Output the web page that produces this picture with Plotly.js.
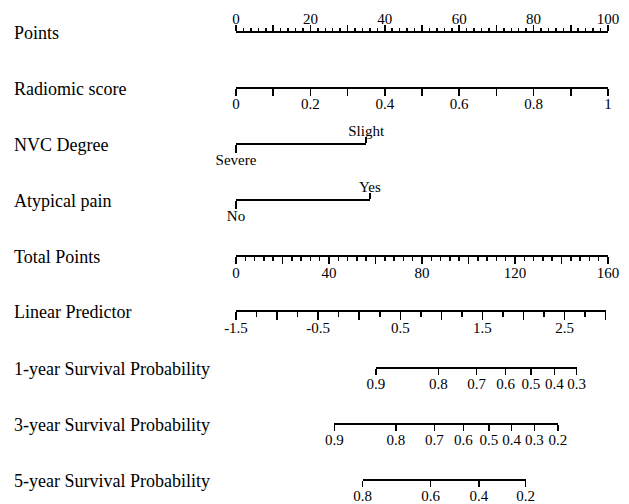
<!DOCTYPE html>
<html><head><meta charset="utf-8">
<script src="https://cdn.plot.ly/plotly-3.0.1.min.js"></script>
<style>html,body{margin:0;padding:0;background:#fff}#chart{width:629px;height:504px}</style>
</head><body><div id="chart"></div>
<script>
// ---------- data ----------
const rowLabels = ['Points','Radiomic score','NVC Degree','Atypical pain','Total Points',
  'Linear Predictor','1-year Survival Probability','3-year Survival Probability','5-year Survival Probability'];

const pointsRange = [0, 100];
const pointsTickVals = [0,10,20,30,40,50,60,70,80,90,100];
const pointsTickText = ['0','','20','','40','','60','','80','','100'];
const pointsMinorStep = 2;

const radiomicRange = [0, 1];
const radiomicTickVals = [0,0.1,0.2,0.3,0.4,0.5,0.6,0.7,0.8,0.9,1];
const radiomicTickText = ['0','','0.2','','0.4','','0.6','','0.8','','1'];

const nvcLevels = ['Severe','Slight'];
const nvcPoints = [0, 35];

const painLevels = ['No','Yes'];
const painPoints = [0, 36];

const totalRange = [0, 160];
const totalTickVals = [0,20,40,60,80,100,120,140,160];
const totalTickText = ['0','','40','','80','','120','','160'];
const totalMinorStep = 4;

const lpRange = [-1.5, 3.0];
const lpTotalAtEnd = 159;          // total points where LP = 3.0
const lpTickVals = [-1.5,-1,-0.5,0,0.5,1,1.5,2,2.5,3];
const lpTickText = ['-1.5','','-0.5','','0.5','','1.5','','2.5',''];
const lpMinorStep = 0.25;

const surv1Labels = ['0.9','0.8','0.7','0.6','0.5','0.4','0.3'];
const surv1Points = [60.2, 87.0, 103.5, 116.0, 126.8, 136.9, 146.5];
const surv3Labels = ['0.9','0.8','0.7','0.6','0.5','0.4','0.3','0.2'];
const surv3Points = [42.3, 68.8, 85.3, 97.8, 108.8, 118.6, 128.3, 138.4];
const surv5Labels = ['0.8','0.6','0.4','0.2'];
const surv5Points = [54.5, 83.7, 104.5, 124.6];

// ---------- layout ----------
const H = 504;
const rowPx = [31.7, 88.3, 144.3, 200, 255.7, 310.7, 368.3, 424.3, 480];
const rowPos = rowPx.map(p => 1 - p / H);
const FONT = 'Liberation Serif, Times New Roman, serif';

function axis(o) {
  const a = {
    anchor: 'free', position: o.pos, domain: o.domain || [0, 1], range: o.range,
    side: o.side || 'bottom', showline: true, linecolor: '#000', linewidth: 2,
    ticks: 'outside', tickcolor: '#000', tickwidth: 1.5, ticklen: o.ticklen || 6,
    tickmode: 'array', tickvals: o.tickvals, ticktext: o.ticktext, tickangle: 0,
    ticklabelstandoff: o.standoff !== undefined ? o.standoff : -5,
    tickfont: {family: FONT, size: 15, color: '#000'},
    showgrid: false, zeroline: false, fixedrange: true, automargin: false
  };
  if (o.minor) {
    a.minor = {tickmode: 'linear', tick0: o.range[0], dtick: o.minor, ticks: 'outside',
      ticklen: o.minorlen || 3, tickwidth: 1.5, tickcolor: '#000', showgrid: false};
  }
  return a;
}

const axes = [];
axes.push(axis({pos: rowPos[0], range: pointsRange, side: 'top', tickvals: pointsTickVals,
  ticktext: pointsTickText, ticklen: 5.5, minor: pointsMinorStep, minorlen: 3, standoff: -5}));
axes.push(axis({pos: rowPos[1], range: radiomicRange, tickvals: radiomicTickVals,
  ticktext: radiomicTickText, ticklen: 6.5}));
const nvcDom = [nvcPoints[0] / pointsRange[1], nvcPoints[1] / pointsRange[1]];
axes.push(axis({pos: rowPos[2], range: nvcPoints, domain: nvcDom, tickvals: [nvcPoints[0]],
  ticktext: [nvcLevels[0]], ticklen: 7.5, standoff: -6}));
axes.push(axis({pos: rowPos[2], range: nvcPoints, domain: nvcDom, side: 'top',
  tickvals: [nvcPoints[1]], ticktext: [nvcLevels[1]], ticklen: 6}));
const painDom = [painPoints[0] / pointsRange[1], painPoints[1] / pointsRange[1]];
axes.push(axis({pos: rowPos[3], range: painPoints, domain: painDom, tickvals: [painPoints[0]],
  ticktext: [painLevels[0]], ticklen: 7.5, standoff: -6}));
axes.push(axis({pos: rowPos[3], range: painPoints, domain: painDom, side: 'top',
  tickvals: [painPoints[1]], ticktext: [painLevels[1]], ticklen: 6}));
axes.push(axis({pos: rowPos[4], range: totalRange, tickvals: totalTickVals, ticktext: totalTickText,
  ticklen: 7.5, minor: totalMinorStep, minorlen: 4.5, standoff: -4}));
axes.push(axis({pos: rowPos[5], range: lpRange, domain: [0, lpTotalAtEnd / totalRange[1]],
  tickvals: lpTickVals, ticktext: lpTickText, ticklen: 8, minor: lpMinorStep, minorlen: 5}));
[[surv1Points, surv1Labels], [surv3Points, surv3Labels], [surv5Points, surv5Labels]].forEach((s, i) => {
  const pts = s[0];
  axes.push(axis({pos: rowPos[6 + i], range: [pts[0], pts[pts.length - 1]],
    domain: [pts[0] / totalRange[1], pts[pts.length - 1] / totalRange[1]],
    tickvals: pts, ticktext: s[1], ticklen: 6, standoff: -4}));
});

const layout = {
  width: 629, height: 504,
  margin: {l: 236, r: 21, t: 0, b: 0, pad: 0},
  paper_bgcolor: '#fff', plot_bgcolor: 'rgba(0,0,0,0)',
  showlegend: false,
  yaxis: {visible: false, range: [0, 1], domain: [0, 1], fixedrange: true},
  annotations: rowLabels.map((t, i) => ({
    text: t, xref: 'paper', yref: 'paper', x: (12 - 236) / 372, y: rowPos[i],
    xanchor: 'left', yanchor: 'middle', yshift: -1, showarrow: false,
    font: {family: FONT, size: 18, color: '#000'}
  }))
};

const traces = [];
axes.forEach((a, i) => {
  const id = i === 0 ? '' : String(i + 1);
  layout['xaxis' + id] = a;
  traces.push({type: 'scatter', mode: 'markers', x: [a.range[0]], y: [0.5],
    xaxis: 'x' + id, yaxis: 'y', marker: {opacity: 0}, hoverinfo: 'skip', showlegend: false});
});

Plotly.newPlot('chart', traces, layout, {displayModeBar: false, staticPlot: true});
</script>
</body></html>
